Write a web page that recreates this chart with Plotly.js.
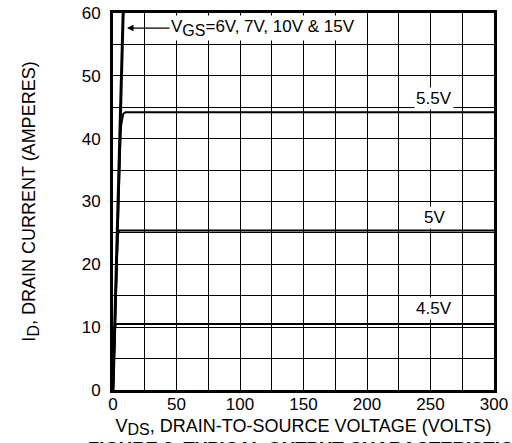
<!DOCTYPE html>
<html><head><meta charset="utf-8">
<script src="https://cdn.plot.ly/plotly-3.0.1.min.js"></script>
<style>html,body{margin:0;padding:0;background:#fff}#c{width:512px;height:443px}</style>
</head><body><div id="c"></div>
<script>
// Data
const vdsHigh = [0, 2, 4, 6, 8];
const idHigh  = [0, 15, 30, 45, 60];
const vds55 = [0, 2, 4, 5, 5.5, 6, 6.5, 7, 7.5, 8, 9, 10, 300];
const id55  = [0, 15, 30, 36.5, 39, 41, 42.3, 43.1, 43.6, 43.9, 44.1, 44.2, 44.2];
const vds50 = [0, 2, 2.5, 3, 3.5, 4, 5, 300];
const id50  = [0, 15, 18.5, 21.5, 23.5, 24.8, 25.4, 25.4];
const vds45 = [0, 1, 1.3, 1.6, 2, 3, 300];
const id45  = [0, 7.5, 9.2, 10, 10.3, 10.5, 10.5];
const curveLabels = ["5.5V", "5V", "4.5V"];
const labelX = [253, 253, 253];
const labelY = [46.4, 27.5, 13.0];

const font = "Liberation Sans, Arial, Helvetica, sans-serif";
const sub = (t, s) => "<sub><span style='font-size:" + s + "px'>" + t + "</span></sub>";
const traces = [
  {x: vdsHigh, y: idHigh, mode: "lines", line: {color: "#000", width: 3}},
  {x: vds55, y: id55, mode: "lines", line: {color: "#000", width: 2}},
  {x: vds50, y: id50, mode: "lines", line: {color: "#000", width: 2}},
  {x: vds45, y: id45, mode: "lines", line: {color: "#000", width: 2}}
];
const annotations = curveLabels.map((t, i) => ({
  x: labelX[i], y: labelY[i], xref: "x", yref: "y", text: t, showarrow: false,
  bgcolor: "#fff", borderpad: 1, font: {family: font, size: 17, color: "#000"}
}));
annotations.push({
  x: 11, y: 57.6, xref: "x", yref: "y", text: "V" + sub("GS", 16) + "=6V, 7V, 10V & 15V",
  showarrow: true, ax: 136, ay: 0, arrowhead: 2, arrowsize: 1, arrowwidth: 1.3, arrowcolor: "#000",
  bgcolor: "#fff", borderpad: 1, font: {family: font, size: 17, color: "#000"}
});
annotations.push({
  x: -0.07, y: -0.121, xref: "paper", yref: "paper", xanchor: "left", yanchor: "top",
  text: "<b>FIGURE 3. TYPICAL OUTPUT CHARACTERISTICS</b>", showarrow: false,
  font: {family: font, size: 18.5, color: "#000"}
});

const layout = {
  width: 512, height: 443,
  margin: {l: 113, r: 18, t: 13, b: 53},
  paper_bgcolor: "#fff", plot_bgcolor: "#fff",
  showlegend: false,
  font: {family: font, size: 17, color: "#000"},
  xaxis: {
    range: [0, 300], tickvals: [0,25,50,75,100,125,150,175,200,225,250,275,300],
    ticktext: ["0","","50","","100","","150","","200","","250","","300"],
    showgrid: true, gridcolor: "#000", gridwidth: 1,
    showline: true, linecolor: "#000", linewidth: 3, mirror: true,
    zeroline: false, ticks: "", ticklabelstandoff: -3, tickfont: {family: font, size: 17},
    title: {text: "V" + sub("DS", 16) + ", DRAIN-TO-SOURCE VOLTAGE (VOLTS)", font: {family: font, size: 18}, standoff: 6}
  },
  yaxis: {
    range: [0, 60], tickvals: [0,5,10,15,20,25,30,35,40,45,50,55,60],
    ticktext: ["0","","10","","20","","30","","40","","50","","60"],
    showgrid: true, gridcolor: "#000", gridwidth: 1,
    showline: true, linecolor: "#000", linewidth: 3, mirror: true,
    zeroline: false, ticks: "", ticklabelstandoff: 6, tickfont: {family: font, size: 17},
    title: {text: "I" + sub("D", 16) + ", DRAIN CURRENT (AMPERES)", font: {family: font, size: 18}, standoff: 42}
  },
  annotations: annotations
};
Plotly.newPlot("c", traces, layout, {staticPlot: true, displayModeBar: false});
</script></body></html>
